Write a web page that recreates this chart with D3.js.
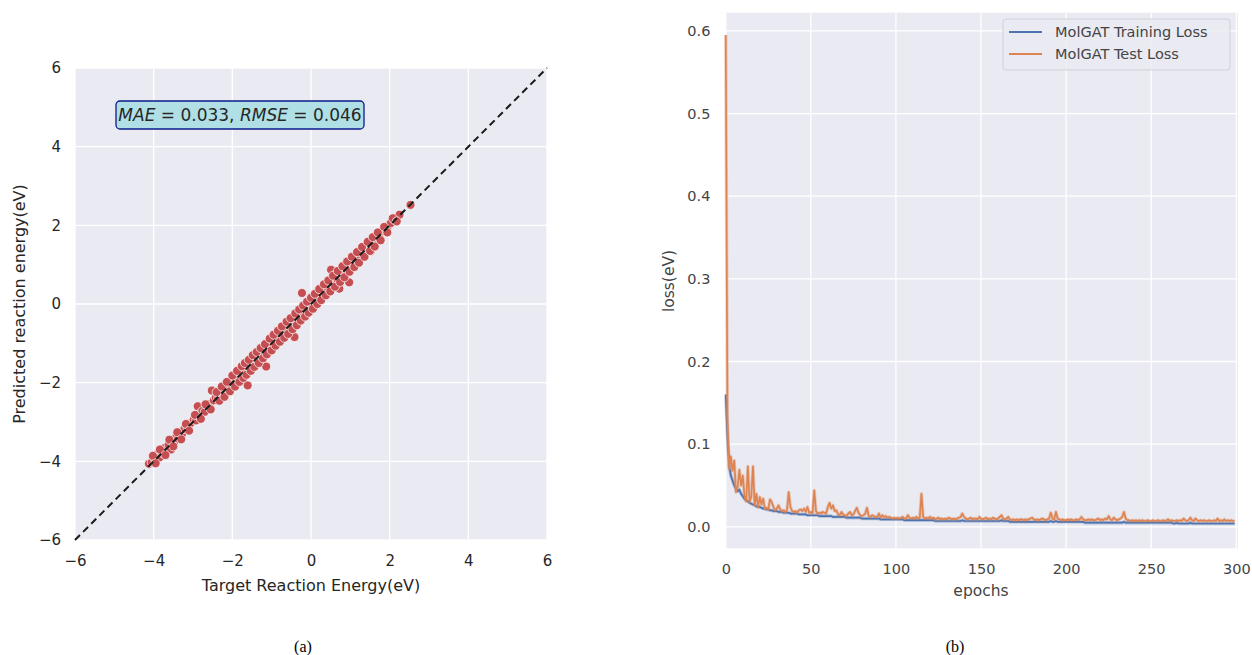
<!DOCTYPE html>
<html><head><meta charset="utf-8">
<script src="https://cdn.jsdelivr.net/npm/d3@7"></script>
<style>
html,body{margin:0;padding:0;background:#fff;}
svg{display:block;}
text{font-family:"DejaVu Sans",sans-serif;}
</style></head>
<body>
<svg id="chart" width="1252" height="655"></svg>
<script>
// ---------- Panel (a) data ----------
const targetEnergy = [
-4.12,-4.05,-3.98,-3.92,-3.88,-3.85,-3.80,-3.76,-3.72,-3.68,-3.62,-3.56,-3.52,-3.47,-3.42,-3.38,-3.33,-3.28,-3.22,-3.15,
-3.05,-2.98,-2.92,-2.88,-2.84,-2.76,-2.70,-2.64,-2.58,-2.52,-2.47,-2.42,-2.36,
-2.30,-2.25,-2.21,-2.17,-2.12,-2.08,-2.03,-1.99,-1.95,-1.91,-1.87,-1.84,-1.80,-1.77,-1.74,-1.70,-1.66,-1.63,-1.61,-1.58,-1.55,-1.51,-1.47,-1.43,-1.39,-1.35,-1.31,-1.27,-1.23,-1.19,-1.14,-1.15,-1.10,-1.06,-1.02,
-0.97,-0.93,-0.89,-0.85,-0.81,-0.77,-0.73,-0.69,-0.65,-0.61,-0.57,-0.53,-0.49,-0.45,-0.42,-0.41,-0.37,-0.33,-0.29,-0.25,-0.23,-0.21,-0.17,-0.13,-0.09,-0.05,-0.01,0.03,0.07,0.11,0.15,0.19,0.23,0.27,
0.31,0.35,0.39,0.43,0.47,0.51,0.51,0.55,0.59,0.63,0.67,0.72,0.71,0.75,0.79,0.83,0.87,0.91,0.95,0.97,0.99,1.03,1.07,1.11,1.15,1.19,1.23,1.28,1.33,1.38,1.43,1.48,1.52,1.53,1.58,1.63,1.68,1.74,
1.82,1.90,1.97,2.03,2.12,2.25,2.53,
-4.02,-3.95,-3.84,-3.70,-3.60,-3.50,-3.40,-3.30,-3.18,-3.10,
-2.95,-2.80,-2.68,-2.55,-2.40,-2.33,
-2.27,-2.20,-2.14,-2.06,-2.00,-1.93,-1.88,-1.82,-1.76,-1.72,-1.68,-1.64,-1.58,-1.53,-1.48,-1.44,-1.38,-1.33,-1.28,-1.22,-1.17,-1.12,-1.05,-1.00,
-0.95,-0.90,-0.84,-0.79,-0.74,-0.68,-0.62,-0.58,-0.52,-0.47,-0.40,-0.36,-0.30,-0.26,-0.20,-0.15,-0.10,-0.06,0.00,0.05,0.10,0.16,0.21,0.26,
0.33,0.38,0.44,0.49,0.56,0.61,0.68,0.74,0.80,0.85,0.92,0.98,1.04,1.10,1.17,1.22,1.30,1.36,1.44,1.50,1.57,1.62,1.70,1.77,1.86,1.94,2.08,2.18];
const predictedEnergy = [
-4.06,-4.02,-3.93,-3.95,-3.80,-3.90,-3.74,-3.80,-3.66,-3.72,-3.58,-3.70,-3.47,-3.50,-3.36,-3.42,-3.28,-3.31,-3.18,-3.12,
-3.02,-2.94,-2.96,-2.60,-2.80,-2.72,-2.74,-2.58,-2.55,-2.20,-2.45,-2.38,-2.40,
-2.26,-2.22,-2.28,-2.12,-2.08,-2.14,-1.98,-1.94,-2.02,-1.86,-1.80,-1.90,-1.75,-1.60,-1.78,-1.65,-1.72,-1.55,-2.07,-1.62,-1.50,-1.56,-1.42,-1.46,-1.33,-1.40,-1.26,-1.30,-1.18,-1.22,-1.59,-1.10,-1.14,-1.02,-1.06,
-0.92,-0.96,-0.84,-0.90,-0.76,-0.80,-0.68,-0.74,-0.60,-0.66,-0.52,-0.58,-0.44,-0.50,-0.84,-0.36,-0.42,-0.28,-0.33,-0.20,0.28,-0.25,-0.12,-0.17,-0.04,-0.09,0.04,-0.02,0.12,0.06,0.20,0.14,0.28,0.22,
0.36,0.30,0.44,0.38,0.52,0.87,0.46,0.60,0.54,0.68,0.62,0.39,0.76,0.70,0.84,0.78,0.92,0.86,1.00,0.55,0.94,1.08,1.02,1.16,1.10,1.24,1.18,1.33,1.28,1.44,1.38,1.53,1.34,1.48,1.63,1.58,1.72,1.70,
1.86,1.88,2.00,2.06,2.14,2.27,2.52,
-3.86,-4.05,-3.70,-3.84,-3.45,-3.62,-3.26,-3.44,-3.05,-3.22,
-2.82,-2.92,-2.55,-2.68,-2.24,-2.46,
-2.10,-2.36,-1.98,-2.22,-1.82,-2.10,-1.70,-1.98,-1.58,-1.88,-1.50,-1.80,-1.42,-1.70,-1.30,-1.60,-1.22,-1.50,-1.12,-1.38,-1.02,-1.28,-0.88,-1.18,
-0.78,-1.06,-0.68,-0.96,-0.57,-0.86,-0.45,-0.76,-0.36,-0.64,-0.24,-0.54,-0.14,-0.42,-0.04,-0.32,0.06,-0.22,0.16,-0.12,0.26,0.00,0.38,0.10,
0.50,0.22,0.60,0.32,0.72,0.44,0.84,0.56,0.96,0.68,1.08,0.82,1.20,0.94,1.32,1.05,1.45,1.20,1.58,1.35,1.70,1.46,1.82,1.62,1.96,1.82,2.18,2.10];
const axisTicksA = [-6,-4,-2,0,2,4,6];
const annotationText = ["MAE", " = 0.033, ", "RMSE", " = 0.046"];

// ---------- Panel (b) data (index = epoch) ----------
const testLoss = [
0.595,0.130,0.070,0.085,0.068,0.080,0.042,0.048,0.069,0.050,
0.062,0.038,0.031,0.073,0.030,0.036,0.073,0.026,0.040,0.024,
0.036,0.027,0.034,0.022,0.023,0.021,0.033,0.030,0.024,0.020,
0.022,0.026,0.021,0.019,0.020,0.018,0.020,0.042,0.024,0.019,
0.018,0.019,0.017,0.020,0.021,0.019,0.022,0.018,0.024,0.017,
0.018,0.016,0.044,0.019,0.016,0.017,0.016,0.018,0.017,0.016,
0.024,0.029,0.022,0.026,0.019,0.020,0.015,0.014,0.018,0.015,
0.014,0.013,0.016,0.018,0.014,0.015,0.019,0.023,0.017,0.014,
0.013,0.014,0.016,0.023,0.013,0.012,0.014,0.013,0.012,0.012,
0.016,0.011,0.014,0.012,0.013,0.011,0.012,0.011,0.010,0.011,
0.010,0.011,0.010,0.011,0.012,0.010,0.010,0.014,0.011,0.010,
0.011,0.010,0.012,0.010,0.011,0.040,0.012,0.010,0.011,0.010,
0.012,0.010,0.011,0.009,0.010,0.011,0.009,0.010,0.009,0.010,
0.009,0.011,0.010,0.009,0.010,0.009,0.010,0.011,0.012,0.016,
0.012,0.010,0.009,0.010,0.011,0.009,0.010,0.010,0.009,0.012,
0.010,0.009,0.010,0.011,0.009,0.010,0.009,0.011,0.010,0.009,
0.010,0.012,0.014,0.010,0.009,0.010,0.012,0.009,0.008,0.009,
0.008,0.009,0.008,0.009,0.009,0.008,0.009,0.008,0.009,0.010,
0.011,0.009,0.008,0.009,0.008,0.009,0.010,0.009,0.008,0.009,
0.010,0.017,0.010,0.009,0.018,0.010,0.009,0.008,0.009,0.008,
0.008,0.009,0.008,0.009,0.008,0.008,0.009,0.008,0.009,0.012,
0.009,0.008,0.008,0.009,0.008,0.009,0.008,0.008,0.009,0.010,
0.008,0.009,0.008,0.010,0.009,0.013,0.009,0.008,0.011,0.009,
0.008,0.009,0.010,0.012,0.018,0.010,0.008,0.008,0.007,0.008,
0.007,0.008,0.007,0.008,0.007,0.008,0.007,0.007,0.008,0.007,
0.007,0.008,0.007,0.007,0.008,0.007,0.007,0.008,0.007,0.008,
0.009,0.007,0.008,0.007,0.007,0.008,0.007,0.008,0.007,0.010,
0.008,0.007,0.008,0.011,0.008,0.007,0.010,0.008,0.007,0.008,
0.007,0.008,0.007,0.007,0.008,0.007,0.007,0.008,0.007,0.010,
0.007,0.008,0.007,0.009,0.007,0.008,0.007,0.008,0.007,0.007];
const trainLoss = [
0.160,0.110,0.075,0.062,0.056,0.050,0.046,0.043,0.045,0.040,
0.037,0.034,0.032,0.031,0.029,0.028,0.027,0.026,0.025,0.024,
0.024,0.023,0.022,0.022,0.021,0.021,0.020,0.020,0.019,0.019,
0.019,0.018,0.018,0.018,0.017,0.017,0.017,0.017,0.016,0.016,
0.016,0.016,0.016,0.015,0.015,0.015,0.015,0.015,0.014,0.014,
0.014,0.014,0.014,0.014,0.014,0.013,0.013,0.013,0.013,0.013,
0.013,0.013,0.013,0.012,0.012,0.012,0.012,0.012,0.012,0.012,
0.012,0.011,0.011,0.011,0.011,0.011,0.011,0.011,0.011,0.011,
0.010,0.010,0.010,0.010,0.010,0.010,0.010,0.010,0.010,0.010,
0.010,0.009,0.009,0.009,0.009,0.009,0.009,0.009,0.009,0.009,
0.009,0.009,0.009,0.009,0.009,0.008,0.008,0.008,0.008,0.008,
0.008,0.008,0.008,0.008,0.008,0.008,0.008,0.008,0.008,0.008,
0.008,0.008,0.008,0.007,0.007,0.007,0.007,0.007,0.007,0.007,
0.007,0.007,0.007,0.007,0.007,0.007,0.007,0.007,0.007,0.008,
0.007,0.007,0.007,0.007,0.007,0.007,0.007,0.007,0.007,0.007,
0.007,0.007,0.007,0.007,0.007,0.007,0.007,0.007,0.007,0.007,
0.007,0.007,0.008,0.007,0.007,0.007,0.007,0.006,0.006,0.006,
0.006,0.006,0.006,0.006,0.006,0.006,0.006,0.006,0.006,0.006,
0.006,0.006,0.006,0.006,0.006,0.006,0.006,0.006,0.006,0.006,
0.006,0.007,0.006,0.006,0.007,0.006,0.006,0.006,0.006,0.006,
0.006,0.006,0.006,0.006,0.006,0.006,0.006,0.006,0.006,0.006,
0.006,0.005,0.005,0.005,0.005,0.005,0.005,0.005,0.005,0.005,
0.005,0.005,0.005,0.005,0.005,0.005,0.005,0.005,0.005,0.005,
0.005,0.005,0.005,0.005,0.006,0.005,0.005,0.005,0.005,0.005,
0.005,0.005,0.005,0.005,0.005,0.005,0.005,0.005,0.005,0.005,
0.005,0.005,0.005,0.005,0.005,0.005,0.005,0.005,0.005,0.005,
0.005,0.005,0.005,0.004,0.004,0.005,0.004,0.004,0.004,0.004,
0.004,0.004,0.004,0.005,0.004,0.004,0.004,0.004,0.004,0.004,
0.004,0.004,0.004,0.004,0.004,0.004,0.004,0.004,0.004,0.004,
0.004,0.004,0.004,0.004,0.004,0.004,0.004,0.004,0.004,0.004];
const lossTicksY = [0.0,0.1,0.2,0.3,0.4,0.5,0.6];
const epochTicks = [0,50,100,150,200,250,300];
const seriesNames = ["MolGAT Training Loss","MolGAT Test Loss"];
const seriesColors = ["#4C72B0","#DD8452"];
const captions = ["(a)","(b)"];

const svg = d3.select("#chart");
const minus = v => String(v).replace("-", "\u2212");

// ================= Panel (a) =================
const xA = d3.scaleLinear().domain([-6,6]).range([75,547]);
const yA = d3.scaleLinear().domain([-6,6]).range([540,68]);
const gA = svg.append("g");
gA.append("rect").attr("x",xA(-6)).attr("y",yA(6)).attr("width",xA(6)-xA(-6)).attr("height",yA(-6)-yA(6)).attr("fill","#EAEAF2");
gA.selectAll(".gx").data(axisTicksA).join("line").attr("x1",d=>xA(d)).attr("x2",d=>xA(d)).attr("y1",yA(6)).attr("y2",yA(-6)).attr("stroke","#fff").attr("stroke-width",1.3);
gA.selectAll(".gy").data(axisTicksA).join("line").attr("y1",d=>yA(d)).attr("y2",d=>yA(d)).attr("x1",xA(-6)).attr("x2",xA(6)).attr("stroke","#fff").attr("stroke-width",1.3);

const axBA = gA.append("g").attr("transform",`translate(0,${yA(-6)})`).call(d3.axisBottom(xA).tickValues(axisTicksA).tickSize(0).tickPadding(15).tickFormat(minus));
const axLA = gA.append("g").attr("transform",`translate(${xA(-6)},0)`).call(d3.axisLeft(yA).tickValues(axisTicksA).tickSize(0).tickPadding(14).tickFormat(minus));
[axBA,axLA].forEach(a=>{a.select(".domain").remove();a.selectAll("text").attr("fill","#262626").style("font-size","15px").style("font-family","DejaVu Sans");});

// points
const ptsA = targetEnergy.map((t,i)=>[t,predictedEnergy[i]]);
gA.append("g").selectAll("circle").data(ptsA).join("circle")
  .attr("cx",d=>xA(d[0])).attr("cy",d=>yA(d[1])).attr("r",4.5)
  .attr("fill","#C44E52").attr("stroke","#fff").attr("stroke-width",0.7);
// identity line
gA.append("line").attr("x1",xA(-6)).attr("y1",yA(-6)).attr("x2",xA(6)).attr("y2",yA(6))
  .attr("stroke","#1a1a1a").attr("stroke-width",2).attr("stroke-dasharray","7,4.5");

// annotation box
gA.append("rect").attr("x",116).attr("y",101).attr("width",248).attr("height",28).attr("rx",4)
  .attr("fill","#B0E0E6").attr("stroke","#0b1a8c").attr("stroke-width",1.3);
const ann = gA.append("text").attr("x",240).attr("y",121).attr("text-anchor","middle").attr("fill","#262626").style("font-size","17px");
annotationText.forEach((s,i)=>ann.append("tspan").text(s).style("font-style", i%2===0 ? "italic":"normal").attr("xml:space","preserve"));

gA.append("text").attr("x",311).attr("y",591).attr("text-anchor","middle").attr("fill","#262626").style("font-size","16px").text("Target Reaction Energy(eV)");
gA.append("text").attr("transform","translate(25,304) rotate(-90)").attr("text-anchor","middle").attr("fill","#262626").style("font-size","16px").text("Predicted reaction energy(eV)");

// ================= Panel (b) =================
const xB = d3.scaleLinear().domain([-0.2,301]).range([725.4,1238]);
const yB = d3.scaleLinear().domain([-0.026,0.622]).range([548.3,12.7]);
const gB = svg.append("g");
gB.append("rect").attr("x",xB(-0.2)).attr("y",yB(0.622)).attr("width",xB(301)-xB(-0.2)).attr("height",yB(-0.026)-yB(0.622)).attr("fill","#EAEAF2");
gB.selectAll(".gx").data(epochTicks).join("line").attr("x1",d=>xB(d)).attr("x2",d=>xB(d)).attr("y1",yB(0.622)).attr("y2",yB(-0.026)).attr("stroke","#fff").attr("stroke-width",1.3);
gB.selectAll(".gy").data(lossTicksY).join("line").attr("y1",d=>yB(d)).attr("y2",d=>yB(d)).attr("x1",xB(-0.2)).attr("x2",xB(301)).attr("stroke","#fff").attr("stroke-width",1.3);

const axBB = gB.append("g").attr("transform",`translate(0,${yB(-0.026)})`).call(d3.axisBottom(xB).tickValues(epochTicks).tickSize(0).tickPadding(15).tickFormat(d3.format("d")));
const axLB = gB.append("g").attr("transform",`translate(${xB(-0.2)},0)`).call(d3.axisLeft(yB).tickValues(lossTicksY).tickSize(0).tickPadding(15).tickFormat(d3.format(".1f")));
[axBB,axLB].forEach(a=>{a.select(".domain").remove();a.selectAll("text").attr("fill","#444").style("font-size","14.5px").style("font-family","DejaVu Sans");});

const lineB = d3.line().x((d,i)=>xB(i)).y(d=>yB(d));
[trainLoss,testLoss].forEach((s,k)=>{
  gB.append("path").datum(s).attr("d",lineB).attr("fill","none").attr("stroke",seriesColors[k]).attr("stroke-opacity",0.35).attr("stroke-width",3.4).attr("stroke-linejoin","round");
  gB.append("path").datum(s).attr("d",lineB).attr("fill","none").attr("stroke",seriesColors[k]).attr("stroke-width",1.7).attr("stroke-linejoin","round");
});

// legend
const lg = gB.append("g");
lg.append("rect").attr("x",1003).attr("y",19).attr("width",227).attr("height",51).attr("rx",3)
  .attr("fill","#EAEAF2").attr("fill-opacity",0.85).attr("stroke","#d0d0d8");
seriesNames.forEach((n,i)=>{
  const yy = 32 + i*22;
  lg.append("line").attr("x1",1009).attr("x2",1042).attr("y1",yy).attr("y2",yy).attr("stroke",seriesColors[i]).attr("stroke-width",2);
  lg.append("text").attr("x",1055).attr("y",yy+5).attr("fill","#444").style("font-size","14.5px").text(n);
});

gB.append("text").attr("x",981).attr("y",596).attr("text-anchor","middle").attr("fill","#444").style("font-size","15.5px").text("epochs");
gB.append("text").attr("transform","translate(674,281) rotate(-90)").attr("text-anchor","middle").attr("fill","#444").style("font-size","15.5px").text("loss(eV)");

// captions
svg.selectAll(".cap").data(captions).join("text").attr("class","cap")
  .attr("x",(d,i)=>[303,955][i]).attr("y",652).attr("text-anchor","middle")
  .style("font-family","'Liberation Serif','Times New Roman',serif").style("font-size","16px").attr("fill","#000").text(d=>d);
</script>
</body></html>
